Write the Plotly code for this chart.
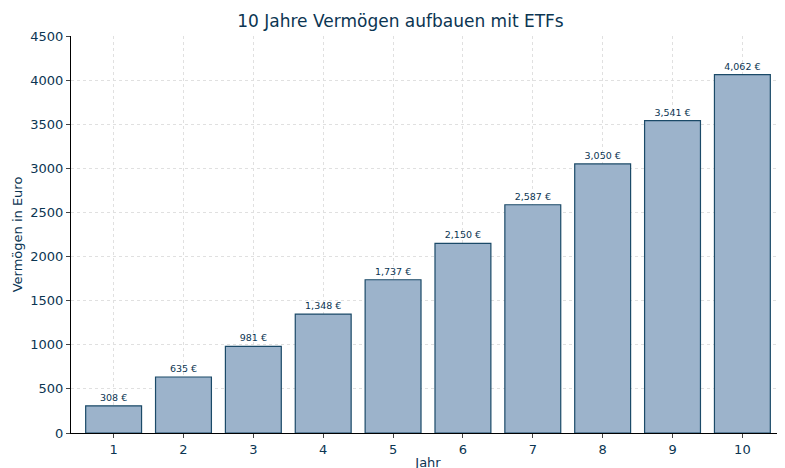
import plotly.graph_objects as go

years = [1, 2, 3, 4, 5, 6, 7, 8, 9, 10]
values = [308, 635, 981, 1348, 1737, 2150, 2587, 3050, 3541, 4062]
labels = ["308 €", "635 €", "981 €", "1,348 €", "1,737 €", "2,150 €", "2,587 €", "3,050 €", "3,541 €", "4,062 €"]

tc = "#0b3552"
fig = go.Figure(go.Bar(
    x=years, y=values, width=0.8,
    marker=dict(color="#9cb3cb", line=dict(color="#1b4a68", width=1.2)),
    text=labels, textposition="outside", cliponaxis=False,
    textfont=dict(size=9.5, color=tc),
))
fig.update_layout(
    width=785, height=468,
    margin=dict(l=63, r=8, t=28, b=43, autoexpand=False),
    plot_bgcolor="white", paper_bgcolor="white",
    font=dict(family="DejaVu Sans", color=tc, size=12),
    title=dict(text="10 Jahre Vermögen aufbauen mit ETFs", x=0.5, xanchor="center", y=0.985, yanchor="top", font=dict(size=17, color=tc)),
    showlegend=False,
)
fig.update_xaxes(range=[0.39, 10.61], tickvals=years, showgrid=True, gridcolor="#e0e0e0", griddash="dot", gridwidth=0.8,
                 showline=True, linecolor="black", ticks="outside", ticklen=4, automargin=False,
                 title=dict(text="Jahr", font=dict(size=13), standoff=2), tickfont=dict(size=13))
fig.update_yaxes(range=[0, 4500], dtick=500, showgrid=True, gridcolor="#e0e0e0", griddash="dot", gridwidth=0.8,
                 showline=True, linecolor="black", ticks="outside", ticklen=4, zeroline=False, automargin=False,
                 title=dict(text="Vermögen in Euro", font=dict(size=13), standoff=4), tickfont=dict(size=13))
fig.write_html("out.html")
